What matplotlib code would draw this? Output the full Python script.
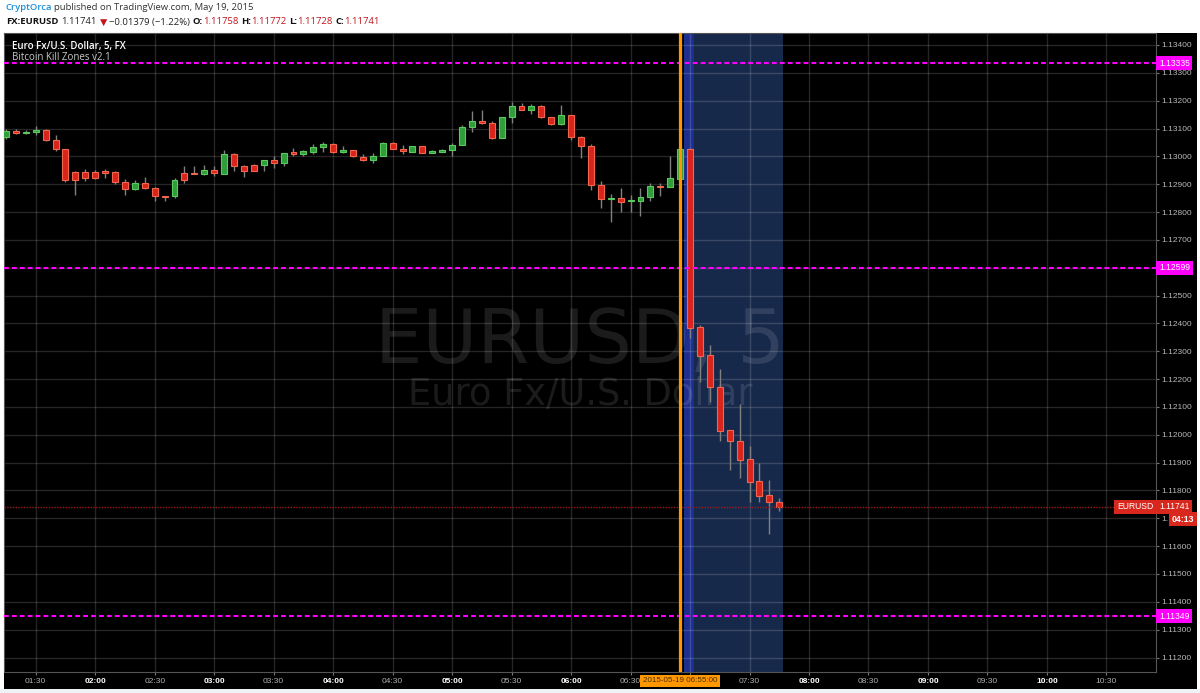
import numpy as np
import pandas as pd
import matplotlib
matplotlib.use("Agg")
import matplotlib.pyplot as plt
import matplotlib.transforms as mtransforms
from matplotlib.ticker import MultipleLocator, FuncFormatter

W, H = 1200, 693  # output size in pixels

# 5-minute EURUSD bars, 19 May 2015
BAR_TIMES = pd.date_range("2015-05-19 01:15", "2015-05-19 07:45", freq="5min")
OPEN = [1.13068, 1.13092, 1.13085, 1.13088, 1.13095, 1.13060, 1.13026, 1.12945, 1.12945, 1.12945,
        1.12946, 1.12942, 1.12909, 1.12883, 1.12906, 1.12887, 1.12859, 1.12856, 1.12940, 1.12940,
        1.12938, 1.12951, 1.12938, 1.13008, 1.12964, 1.12970, 1.12969, 1.12988, 1.12977, 1.13014,
        1.13008, 1.13017, 1.13032, 1.13045, 1.13014, 1.13024, 1.12999, 1.12988, 1.13000, 1.13049,
        1.13028, 1.13017, 1.13038, 1.13012, 1.13017, 1.13021, 1.13042, 1.13105, 1.13127, 1.13118,
        1.13066, 1.13143, 1.13181, 1.13167, 1.13181, 1.13141, 1.13116, 1.13149, 1.13071, 1.13038,
        1.12898, 1.12848, 1.12851, 1.12838, 1.12840, 1.12853, 1.12895, 1.12889, 1.12919, 1.13027,
        1.12386, 1.12285, 1.12172, 1.12017, 1.11978, 1.11912, 1.11833, 1.11784, 1.11758]
HIGH = [1.13099, 1.13099, 1.13095, 1.13110, 1.13100, 1.13076, 1.13026, 1.12947, 1.12955, 1.12951,
        1.12955, 1.12946, 1.12919, 1.12915, 1.12926, 1.12890, 1.12859, 1.12921, 1.12964, 1.12964,
        1.12970, 1.12966, 1.13024, 1.13012, 1.12969, 1.12973, 1.12988, 1.13002, 1.13013, 1.13030,
        1.13024, 1.13045, 1.13053, 1.13048, 1.13038, 1.13024, 1.13009, 1.13012, 1.13053, 1.13053,
        1.13042, 1.13038, 1.13038, 1.13021, 1.13026, 1.13048, 1.13113, 1.13162, 1.13167, 1.13127,
        1.13143, 1.13195, 1.13191, 1.13189, 1.13186, 1.13141, 1.13185, 1.13149, 1.13074, 1.13045,
        1.12910, 1.12865, 1.12886, 1.12861, 1.12885, 1.12904, 1.12906, 1.13000, 1.13031, 1.13030,
        1.12394, 1.12321, 1.12238, 1.12017, 1.12110, 1.11960, 1.11898, 1.11838, 1.11772]
LOW = [1.13063, 1.13080, 1.13079, 1.13076, 1.13056, 1.13018, 1.12908, 1.12862, 1.12910, 1.12919,
       1.12921, 1.12899, 1.12860, 1.12880, 1.12883, 1.12841, 1.12840, 1.12849, 1.12906, 1.12935,
       1.12934, 1.12928, 1.12938, 1.12949, 1.12927, 1.12946, 1.12949, 1.12957, 1.12967, 1.13000,
       1.13000, 1.13009, 1.13017, 1.13012, 1.13012, 1.12999, 1.12985, 1.12976, 1.13000, 1.13026,
       1.13008, 1.13017, 1.13012, 1.13012, 1.13017, 1.13000, 1.13039, 1.13089, 1.13116, 1.13063,
       1.13066, 1.13119, 1.13167, 1.13153, 1.13138, 1.13113, 1.13114, 1.13057, 1.12994, 1.12878,
       1.12815, 1.12763, 1.12799, 1.12801, 1.12787, 1.12838, 1.12856, 1.12889, 1.12919, 1.12349,
       1.12190, 1.12118, 1.11978, 1.11874, 1.11844, 1.11757, 1.11757, 1.11644, 1.11728]
CLOSE = [1.13092, 1.13085, 1.13089, 1.13095, 1.13057, 1.13026, 1.12914, 1.12914, 1.12924, 1.12924,
         1.12941, 1.12909, 1.12884, 1.12906, 1.12886, 1.12856, 1.12855, 1.12916, 1.12914, 1.12937,
         1.12951, 1.12939, 1.13008, 1.12964, 1.12947, 1.12947, 1.12988, 1.12976, 1.13013, 1.13009,
         1.13019, 1.13034, 1.13045, 1.13014, 1.13024, 1.13000, 1.12988, 1.13002, 1.13049, 1.13028,
         1.13018, 1.13038, 1.13012, 1.13019, 1.13024, 1.13042, 1.13105, 1.13127, 1.13118, 1.13066,
         1.13143, 1.13181, 1.13167, 1.13181, 1.13141, 1.13116, 1.13149, 1.13071, 1.13036, 1.12897,
         1.12848, 1.12852, 1.12837, 1.12842, 1.12855, 1.12895, 1.12889, 1.12921, 1.13027, 1.12383,
         1.12283, 1.12170, 1.12014, 1.11977, 1.11909, 1.11831, 1.11781, 1.11760, 1.11741]

KILL_ZONE_LEVELS = [1.13335, 1.12599, 1.11349]  # "Bitcoin Kill Zones" lines
LAST_PRICE = 1.11741
COUNTDOWN = "04:13"
CURSOR_TIME = "06:55"
ZONE_START, ZONE_STRIP_END, ZONE_END = "06:57", "07:02", "07:47"
TIME_TICKS = ["01:30", "02:00", "02:30", "03:00", "03:30", "04:00", "04:30", "05:00", "05:30",
              "06:00", "06:30", "07:00", "07:30", "08:00", "08:30", "09:00", "09:30", "10:00", "10:30"]
HIDDEN_TIME_LABELS = ["07:00"]  # covered by the cursor time box
X_RANGE = ("01:14", "10:55")
Y_RANGE = (1.11148, 1.13443)

AXIS_FONT = ["Liberation Sans", "DejaVu Sans"]
HEAD_FONT = ["Open Sans", "DejaVu Sans"]


def to_min(hhmm):
    h, m = hhmm.split(":")
    return int(h) * 60 + int(m)


def fx(px):
    return px / W


def fy(py):
    return 1 - py / H


def price_label(v, _):
    # labels hidden behind the level / countdown boxes on the price scale
    if abs(v - 1.126) < 1e-7:
        return ""
    if abs(v - 1.117) < 1e-7:
        return "1."
    return f"{v:.5f}"


x = np.array(BAR_TIMES.hour * 60 + BAR_TIMES.minute, dtype=float)
o, h, l, c = (np.array(v) for v in (OPEN, HIGH, LOW, CLOSE))

fig = plt.figure(figsize=(W / 100, H / 100), dpi=100, facecolor="white")
# black chart panel (plot area plus both scales)
fig.patches.append(plt.Rectangle((fx(4), fy(689)), fx(1197) - fx(4), fy(33) - fy(689),
                                 transform=fig.transFigure, facecolor="black", zorder=-2))
fig.patches.append(plt.Rectangle((0, 0), 1, fy(689), transform=fig.transFigure,
                                 facecolor="#eef1f6", zorder=-2))

ax = fig.add_axes([fx(4), fy(672), fx(1156) - fx(4), fy(33) - fy(672)])
ax.set_facecolor("black")
ax.set_xlim(to_min(X_RANGE[0]), to_min(X_RANGE[1]))
ax.set_ylim(*Y_RANGE)

# kill zone shading
ax.axvspan(to_min(ZONE_START), to_min(ZONE_END), color="#17294b", zorder=0.1, lw=0)
ax.axvspan(to_min(ZONE_START), to_min(ZONE_STRIP_END), color="#1d2f8e", zorder=0.15, lw=0)

# grid
ax.set_axisbelow(True)
ax.grid(True, color="white", alpha=0.15, lw=1)

# watermark
ax.text(0.5, 0.515, "EURUSD, 5", transform=ax.transAxes, ha="center", va="center",
        fontsize=54, color="white", alpha=0.11, zorder=1)
ax.text(0.5, 0.435, "Euro Fx/U.S. Dollar", transform=ax.transAxes, ha="center", va="center",
        fontsize=26.5, color="white", alpha=0.11, zorder=1)

# candles
up = c >= o
fill = np.where(up, "#2f9d3a", "#d9241c")
edge = np.where(up, "#5bc95e", "#f0664f")
body_h = np.maximum(np.abs(c - o), 0.00004)
body_bottom = (o + c) / 2 - body_h / 2
ax.vlines(x, l, h, color="#808080", lw=1, zorder=3)
ax.bar(x, body_h, bottom=body_bottom, width=3.0, color=fill, edgecolor=edge, linewidth=0.8, zorder=4)

# horizontal levels
for lvl in KILL_ZONE_LEVELS:
    ax.axhline(lvl, color="#ff00ff", lw=1.5, ls=(0, (2.3, 1.5)), zorder=5)
ax.axhline(LAST_PRICE, color="#9a1c1c", lw=1, ls=(0, (1, 1)), zorder=5)

# cursor line
ax.axvline(to_min(CURSOR_TIME), color="#ff9800", lw=2.3, zorder=6)

# axes styling
for s in ax.spines.values():
    s.set_color("#555555")
ax.yaxis.tick_right()
ax.yaxis.set_major_locator(MultipleLocator(0.001))
ax.yaxis.set_major_formatter(FuncFormatter(price_label))
ax.tick_params(axis="y", labelsize=6, labelcolor="#b8b8b8", color="#777777", length=2.5, pad=1.5)
ax.set_xticks([to_min(t) for t in TIME_TICKS])
ax.set_xticklabels(["" if t in HIDDEN_TIME_LABELS else t for t in TIME_TICKS])
ax.tick_params(axis="x", labelsize=6, labelcolor="#b0b0b0", color="#777777", length=2, pad=2)
for lab in ax.get_xticklabels() + ax.get_yticklabels():
    lab.set_family(AXIS_FONT)
for lab in ax.get_xticklabels():
    if lab.get_text().endswith(":00"):
        lab.set_fontweight("bold")
        lab.set_color("white")

# price scale labels
trans = mtransforms.blended_transform_factory(ax.transAxes, ax.transData)
box = dict(boxstyle="square,pad=0.3", ec="none")
lab_kw = dict(transform=trans, va="center", fontsize=6.2, color="white", family=AXIS_FONT,
              zorder=10, clip_on=False)
for lvl in KILL_ZONE_LEVELS:
    ax.text(1 + 3 / 1152, lvl, f"{lvl:.5f}", ha="left", bbox=dict(box, fc="#ff00ff"), **lab_kw)
ax.text(1 + 3 / 1152, LAST_PRICE, f"{LAST_PRICE:.5f}", ha="left", bbox=dict(box, fc="#d8281e"), **lab_kw)
ax.text(1 - 3 / 1152, LAST_PRICE, "EURUSD", ha="right", bbox=dict(box, fc="#d8281e"), **lab_kw)
fig.text(fx(1172), fy(519), COUNTDOWN, ha="left", va="center", fontsize=6.2, color="white",
         weight="bold", family=AXIS_FONT, bbox=dict(box, fc="#d8281e"), zorder=10)

# time scale cursor label
fig.text(fx(680), fy(681), "2015-05-19 " + CURSOR_TIME + ":00", ha="center", va="center",
         fontsize=5.8, color="#4a3000", family=AXIS_FONT,
         bbox=dict(boxstyle="square,pad=0.35", fc="#ff9800", ec="none"), zorder=10)

# legend inside the pane
fig.text(fx(12), fy(46), "Euro Fx/U.S. Dollar, 5, FX", fontsize=7, color="white", weight="semibold",
         family=HEAD_FONT, va="center", zorder=10)
fig.text(fx(12), fy(58), "Bitcoin Kill Zones v2.1", fontsize=7, color="#c8c8c8",
         family=HEAD_FONT, va="center", zorder=10)

# header, laid out left to right
renderer = fig.canvas.get_renderer()


def run_line(py, x0, parts):
    cur = x0
    for txt, col, wt, gap in parts:
        cur += gap
        t = fig.text(fx(cur), fy(py), txt, color=col, weight=wt, fontsize=6.8,
                     family=HEAD_FONT, va="center")
        cur = t.get_window_extent(renderer).x1


run_line(8, 5, [("CryptOrca", "#1e8fd5", "semibold", 0),
                ("published on TradingView.com, May 19, 2015", "#333333", "normal", 3)])
run_line(22, 6, [("FX:EURUSD", "#111111", "bold", 0), ("1.11741", "#222222", "normal", 3),
                 ("\u25bc", "#c0161b", "normal", 3), ("\u22120.01379 (\u22121.22%)", "#222222", "normal", 2),
                 ("O:", "#111111", "bold", 3), ("1.11758", "#c0161b", "normal", 0),
                 ("H:", "#111111", "bold", 3), ("1.11772", "#c0161b", "normal", 0),
                 ("L:", "#111111", "bold", 3), ("1.11728", "#c0161b", "normal", 0),
                 ("C:", "#111111", "bold", 3), ("1.11741", "#c0161b", "normal", 0)])

fig.savefig("out.png", dpi=100, facecolor=fig.get_facecolor())
